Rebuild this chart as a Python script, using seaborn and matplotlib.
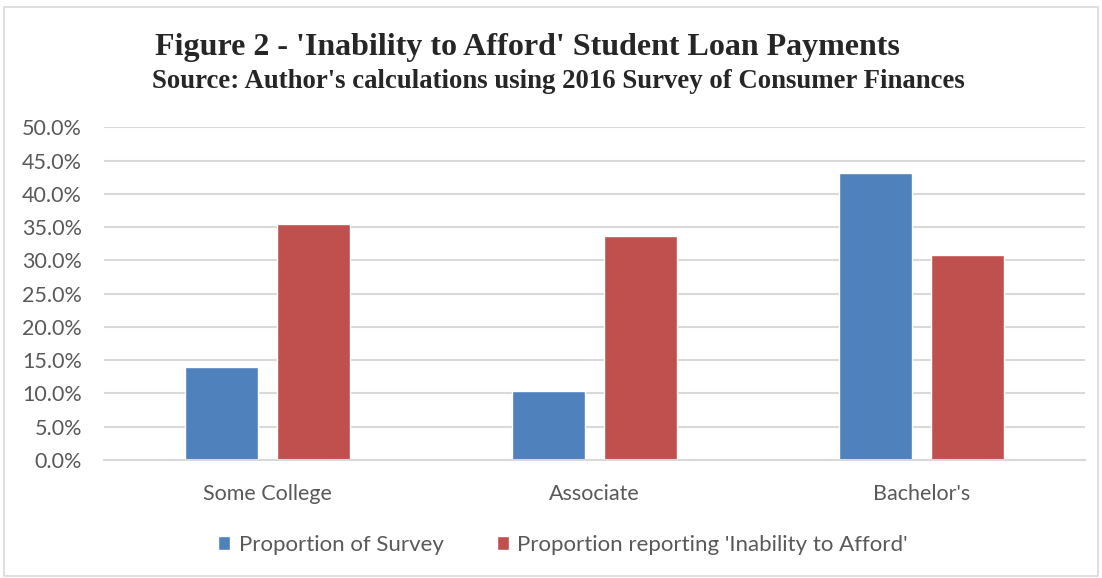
import pandas as pd
import matplotlib.pyplot as plt
import seaborn as sns
from matplotlib.patches import Rectangle
from matplotlib.ticker import PercentFormatter

categories = ['Some College', 'Associate', "Bachelor's"]
series_names = ['Proportion of Survey', "Proportion reporting 'Inability to Afford'"]
survey_share = [0.140, 0.104, 0.432]
unable_share = [0.355, 0.337, 0.308]

df = pd.DataFrame({
    'level': categories * 2,
    'series': [series_names[0]] * 3 + [series_names[1]] * 3,
    'value': survey_share + unable_share,
})

sns.set_style('white')
plt.rcParams['font.family'] = ['Lato', 'DejaVu Sans']

fig = plt.figure(figsize=(11.02, 5.78), dpi=100)
ax = fig.add_axes([0.0944, 0.2042, 0.8902, 0.5755])

sns.barplot(data=df, x='level', y='value', hue='series', ax=ax,
            palette=['#4F81BD', '#C0504D'], width=0.566, gap=0.21,
            saturation=1, legend=True)

ax.set_xlim(-0.5, 2.5)
ax.set_ylim(0, 0.5)
ax.set_yticks([i * 0.05 for i in range(11)])
ax.yaxis.set_major_formatter(PercentFormatter(1.0, decimals=1))
ax.grid(axis='y', color='#d9d9d9', linewidth=1.5)
ax.set_axisbelow(True)
for s in ['top', 'right', 'left']:
    ax.spines[s].set_visible(False)
ax.spines['bottom'].set_color('#d9d9d9')
ax.spines['bottom'].set_linewidth(1.5)
ax.tick_params(axis='both', length=0, labelsize=15.5, colors='#595959')
ax.tick_params(axis='y', pad=16)
ax.tick_params(axis='x', pad=17)
ax.set_xlabel('')
ax.set_ylabel('')

leg = ax.legend(loc='center', bbox_to_anchor=(563 / 1102, 1 - 545 / 578), bbox_transform=fig.transFigure,
                ncol=2, frameon=False, fontsize=16, handlelength=0.56, handleheight=0.56,
                handletextpad=0.37, columnspacing=2.4)
for t in leg.get_texts():
    t.set_color('#595959')

fig.text(155 / 1102, 1 - 47 / 578, "Figure 2 - 'Inability to Afford' Student Loan Payments",
         family='Liberation Serif', weight='bold', fontsize=23, ha='left', va='center')
fig.text(152 / 1102, 1 - 81 / 578, "Source: Author's calculations using 2016 Survey of Consumer Finances",
         family='Liberation Serif', weight='bold', fontsize=19.25, ha='left', va='center')

fig.patches.append(Rectangle((0.004, 0.004), 0.992, 0.984, transform=fig.transFigure,
                             fill=False, edgecolor='#d9d9d9', linewidth=1.2))

plt.savefig('out.png', dpi=100)
